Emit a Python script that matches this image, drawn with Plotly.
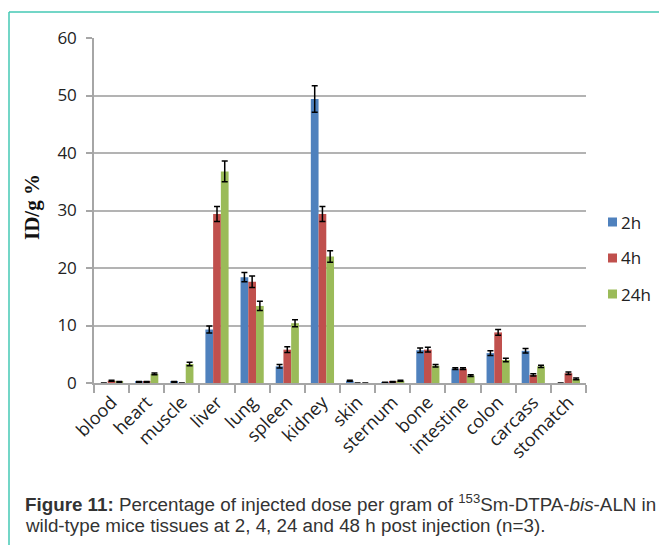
import plotly.graph_objects as go

categories = ["blood", "heart", "muscle", "liver", "lung", "spleen", "kidney",
              "skin", "sternum", "bone", "intestine", "colon", "carcass", "stomatch"]
series_names = ["2h", "4h", "24h"]
vals_2h = [0.0, 0.2, 0.2, 9.3, 18.4, 2.9, 49.4, 0.4, 0.1, 5.7, 2.5, 5.2, 5.6, 0.0]
vals_4h = [0.4, 0.2, 0.0, 29.4, 17.6, 5.8, 29.4, 0.0, 0.2, 5.8, 2.5, 8.8, 1.4, 1.7]
vals_24h = [0.2, 1.6, 3.3, 36.8, 13.4, 10.4, 22.0, 0.0, 0.4, 3.0, 1.3, 4.0, 2.9, 0.7]
err_2h = [0.0, 0.05, 0.05, 0.6, 0.8, 0.3, 2.3, 0.1, 0.05, 0.4, 0.15, 0.4, 0.4, 0.0]
err_4h = [0.1, 0.05, 0.0, 1.3, 1.0, 0.5, 1.3, 0.0, 0.05, 0.4, 0.15, 0.5, 0.2, 0.2]
err_24h = [0.05, 0.15, 0.3, 1.8, 0.8, 0.6, 1.0, 0.0, 0.1, 0.2, 0.15, 0.3, 0.2, 0.15]
colors = ["#4F81BD", "#C0504D", "#9BBB59"]
y_ticks = [0, 10, 20, 30, 40, 50, 60]

# page body has an 8px default margin: figure coordinates are offset by it
OFF = 8
W, H = 667, 545
L, R, T, B = 94 - OFF, 586 - OFF, 38 - OFF, 383 - OFF

def px(x):
    return (x - OFF - L) / (R - L)

def py(y):
    return (B - (y - OFF)) / (B - T)

fig = go.Figure()
for name, v, e, c in zip(series_names, [vals_2h, vals_4h, vals_24h],
                         [err_2h, err_4h, err_24h], colors):
    fig.add_trace(go.Bar(
        x=categories, y=v, name=name, marker=dict(color=c, line=dict(width=0)),
        showlegend=False,
        error_y=dict(type="data", array=e, visible=True, color="black",
                     thickness=1.5, width=3),
    ))

fig.update_layout(
    width=W, height=H,
    margin=dict(l=L, r=W - R, t=T, b=H - B),
    paper_bgcolor="white", plot_bgcolor="white",
    barmode="group", bargap=0.34, bargroupgap=0,
    font=dict(family="Open Sans", color="#222222"),
    xaxis=dict(
        type="category", tickson="boundaries", ticks="outside", ticklen=8,
        tickcolor="#A6A6A6", tickwidth=1.5, showline=True, linecolor="#A6A6A6",
        linewidth=1.5, tickangle=-45, tickfont=dict(size=18, family="Open Sans", color="#222222"),
        showgrid=False, range=[-0.5, 13.5],
    ),
    yaxis=dict(
        range=[0, 60], tickvals=y_ticks, ticks="outside", ticklen=6,
        tickcolor="#A6A6A6", tickwidth=1.5, showline=True, linecolor="#A6A6A6",
        linewidth=1.5, showgrid=True, gridcolor="#B3B3B3", gridwidth=1.5,
        zeroline=False, tickfont=dict(size=17, family="Open Sans", color="#222222"),
        ticklabelstandoff=6,
    ),
)

# legend (drawn manually to match the compact swatch/text spacing)
legend_y = [222, 258, 294]
for name, c, yy in zip(series_names, colors, legend_y):
    fig.add_shape(type="rect", xref="paper", yref="paper",
                  x0=px(608), x1=px(617), y0=py(yy + 4.5), y1=py(yy - 4.5),
                  fillcolor=c, line=dict(width=0))
    fig.add_annotation(text=name, xref="paper", yref="paper", x=px(619), y=py(yy),
                       xanchor="left", yanchor="middle", showarrow=False,
                       font=dict(family="Open Sans", size=17, color="#222222"))

fig.add_annotation(
    text="<b>ID/g %</b>", xref="paper", yref="paper", x=px(32), y=py(207),
    textangle=-90, showarrow=False, xanchor="center", yanchor="middle",
    font=dict(family="Liberation Serif", size=21, color="#111111"),
)

fig.add_annotation(
    text="<b>Figure 11:</b> Percentage of injected dose per gram of <sup>153</sup>Sm-DTPA-<i>bis</i>-ALN in",
    xref="paper", yref="paper", x=px(23), y=py(503), xanchor="left", yanchor="middle",
    showarrow=False, align="left",
    font=dict(family="Liberation Sans", size=18.8, color="#333333"),
)
fig.add_annotation(
    text="wild-type mice tissues at 2, 4, 24 and 48 h post injection (n=3).",
    xref="paper", yref="paper", x=px(23), y=py(525), xanchor="left", yanchor="middle",
    showarrow=False, align="left",
    font=dict(family="Liberation Sans", size=18.8, color="#333333"),
)

frame = "#45C9B5"
fig.add_shape(type="line", xref="paper", yref="paper", x0=px(9), x1=px(680),
              y0=py(12), y1=py(12), line=dict(color=frame, width=1.5))
fig.add_shape(type="line", xref="paper", yref="paper", x0=px(9), x1=px(9),
              y0=py(12), y1=py(560), line=dict(color=frame, width=1.5))

fig.write_html("out.html")
